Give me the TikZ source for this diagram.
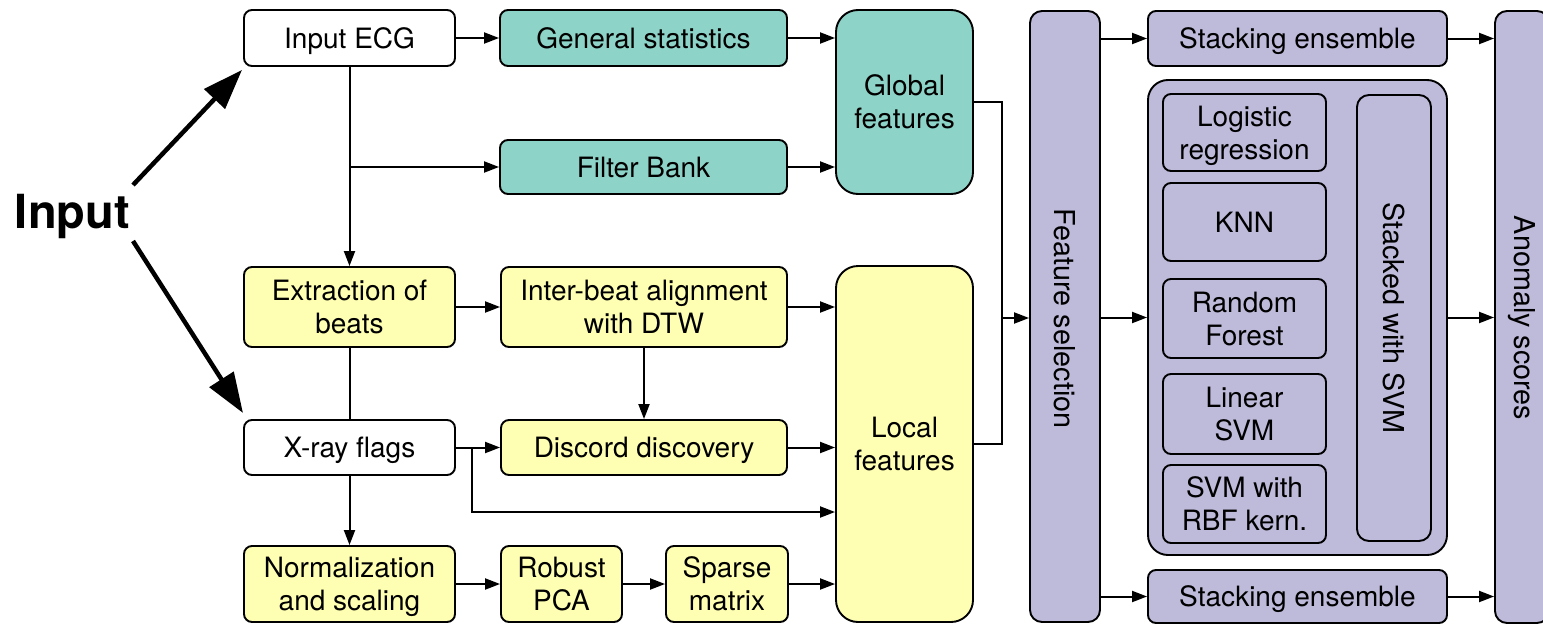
\documentclass[tikz,border=0pt]{standalone}
\usepackage{fontspec}
\setmainfont{TeX Gyre Heros}
\usetikzlibrary{arrows.meta}
\definecolor{teal3}{HTML}{8DD3C7}
\definecolor{yel3}{HTML}{FFFFB3}
\definecolor{pur3}{HTML}{BEBADA}
\begin{document}
\begin{tikzpicture}[x=1pt,y=-1pt,
 box/.style={draw=black, line width=1.9pt, rounded corners=8pt, inner sep=0pt, align=center, text depth=-5pt, font=\fontsize{28}{33}\selectfont},
 two/.style={text depth=-6pt},
 wbox/.style={box, fill=white},
 tbox/.style={box, fill=teal3},
 ybox/.style={box, fill=yel3},
 pbox/.style={box, fill=pur3},
 sz/.style 2 args={minimum width=#1pt, minimum height=#2pt},
 rlab/.style={rotate=-90, font=\fontsize{28.8}{33}\selectfont, inner sep=0pt},
 conn/.style={line width=2pt},
 arr/.style={conn, -{Triangle[length=15pt,width=11pt]}},
 bigarr/.style={line width=4.5pt, -{Triangle[length=40pt,width=28pt]}}
]
\useasboundingbox (0,0) rectangle (1543,624);
\clip (0,0) rectangle (1543,624);

% Input
\node[font=\bfseries\fontsize{47}{50}\selectfont, inner sep=0pt, anchor=base] (inp) at (72.5,228) {Input};
\coordinate (i1) at (133,185);
\coordinate (t1) at (242,70);
\coordinate (i2) at (133,241);
\coordinate (t2) at (243,413);
\draw[bigarr] (i1) -- (t1);
\draw[bigarr] (i2) -- (t2);

% left column
\node[wbox, sz={211}{56}] (ecg) at (349.5,38) {Input ECG};
\node[ybox, two, sz={211}{80}] (ext) at (349.5,307) {Extraction of\\beats};
\node[wbox, sz={211}{55}] (xr) at (349.5,447.5) {X-ray flags};
\node[ybox, two, sz={211}{76}] (norm) at (349.5,584) {Normalization\\and scaling};

% second column
\node[tbox, sz={287}{56}] (gen) at (643.5,38) {General statistics};
\node[tbox, sz={287}{54}] (fb) at (643.5,167) {Filter Bank};
\node[ybox, two, sz={286}{80}] (ib) at (644,307) {Inter-beat alignment\\with DTW};
\node[ybox, sz={286}{55}] (dd) at (644,447.5) {Discord discovery};
\node[ybox, two, sz={121}{76}] (rpca) at (561.5,584) {Robust\\PCA};
\node[ybox, two, sz={122}{76}] (sm) at (727,584) {Sparse\\matrix};

% features
\node[tbox, two, sz={137}{184}, rounded corners=22pt] (glob) at (904.5,102) {Global\\features};
\node[ybox, two, sz={137}{356}, rounded corners=22pt] (loc) at (904.5,444) {Local\\features};

% feature selection
\node[pbox, sz={70}{611}, rounded corners=12pt, label={[rlab, xshift=2pt]center:Feature selection}] (fs) at (1065,316.5) {};

% models
\node[pbox, sz={299}{55}] (st1) at (1297.5,38.5) {Stacking ensemble};
\node[pbox, sz={299}{475}, rounded corners=20pt] (grp) at (1297.5,317.5) {};
\node[pbox, two, sz={163}{77}] (lr) at (1244.5,132.5) {Logistic\\regression};
\node[pbox, sz={163}{78}] (knn) at (1244.5,222) {KNN};
\node[pbox, two, sz={163}{79}] (rf) at (1244.5,318.5) {Random\\Forest};
\node[pbox, two, sz={163}{80}] (lsvm) at (1244.5,414) {Linear\\SVM};
\node[pbox, two, sz={163}{78}] (rbf) at (1244.5,504) {SVM with\\RBF kern.};
\node[pbox, sz={74}{446}, rounded corners=12pt, label={[rlab]center:Stacked with SVM}] (sws) at (1394,318) {};
\node[pbox, sz={299}{53}] (st2) at (1297.5,596.5) {Stacking ensemble};

% anomaly scores
\node[pbox, sz={54}{612}, rounded corners=12pt, label={[rlab, xshift=1pt]center:Anomaly scores}] (anom) at (1522,317) {};

% connectors
\draw[arr] (ecg.east) -- (gen.west);
\draw[arr] (ecg.south) -- (ext.north);
\coordinate (b1) at (ecg.south |- fb.west);
\draw[arr] (b1) -- (fb.west);
\draw[arr] (gen.east) -- (gen.east -| glob.west);
\draw[arr] (fb.east) -- (fb.east -| glob.west);
\draw[arr] (ext.east) -- (ib.west);
\draw[arr] (ib.south) -- (dd.north);
\draw[conn] (ext.south) -- (xr.north);
\draw[arr] (xr.east) -- (dd.west);
\coordinate (b2) at (472,447.5);
\coordinate (b3) at (472,512);
\draw[arr] (b2) -- (b3) -- (b3 -| loc.west);
\draw[arr] (xr.south) -- (norm.north);
\draw[arr] (norm.east) -- (rpca.west);
\draw[arr] (rpca.east) -- (sm.west);
\draw[arr] (ib.east) -- (ib.east -| loc.west);
\draw[arr] (dd.east) -- (dd.east -| loc.west);
\draw[arr] (sm.east) -- (sm.east -| loc.west);
\coordinate (j) at (1002,318);
\draw[conn] (glob.east) -| (j) |- (loc.east);
\draw[arr] (j) -- (j -| fs.west);
\draw[arr] (fs.east |- st1.west) -- (st1.west);
\draw[arr] (fs.east |- grp.west) -- (grp.west);
\draw[arr] (fs.east |- st2.west) -- (st2.west);
\draw[arr] (st1.east) -- (st1.east -| anom.west);
\draw[arr] (grp.east) -- (grp.east -| anom.west);
\draw[arr] (st2.east) -- (st2.east -| anom.west);
\end{tikzpicture}
\end{document}
